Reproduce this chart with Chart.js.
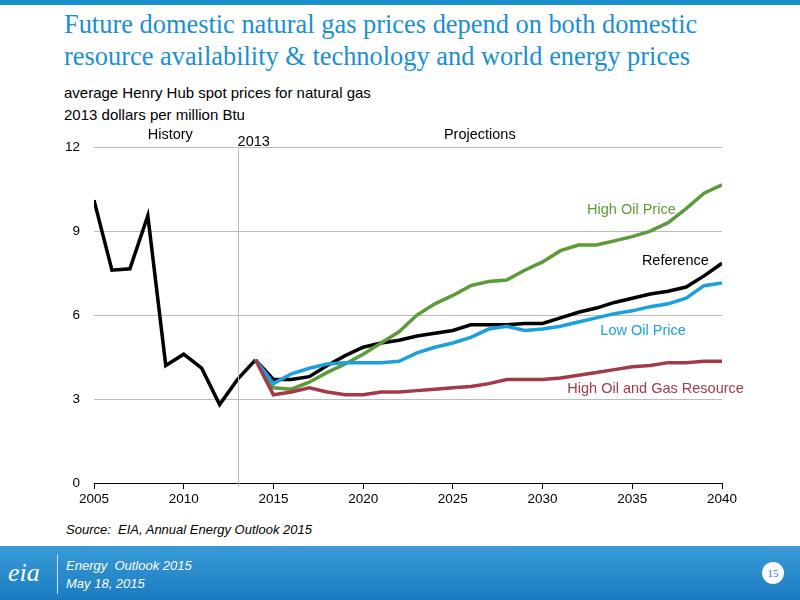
<!DOCTYPE html>
<html><head><meta charset="utf-8">
<script src="https://cdn.jsdelivr.net/npm/chart.js@4"></script>
<style>
body{margin:0;width:800px;height:600px;position:relative;background:#fff;font-family:"Liberation Sans",Arial,sans-serif;overflow:hidden}
#topbar{position:absolute;left:0;top:0;width:800px;height:5px;background:#1a8fd0}
#title{position:absolute;left:64px;top:8px;font-family:"Liberation Serif","Times New Roman",serif;font-size:26.4px;line-height:32px;color:#1a8fd0}
.sub{position:absolute;left:64px;font-size:15px;color:#000}
#src{position:absolute;left:66px;top:522px;font-size:13px;font-style:italic;color:#000}
#foot{position:absolute;left:0;top:546px;width:800px;height:54px;background:linear-gradient(#3a9ad8,#1a7cc0)}
#foot .t{position:absolute;left:66px;color:#fff;font-style:italic;font-size:13px}
#logo{position:absolute;left:8px;top:12px;color:#fff;font-size:26px;font-family:"Liberation Serif",serif;font-style:italic}
#sep{position:absolute;left:57px;top:8px;width:1px;height:40px;background:#cfe6f5}
#pg{position:absolute;left:762px;top:16px;width:22px;height:22px;border-radius:11px;background:#fff;color:#1a7cc0;font-size:11px;text-align:center;line-height:22px;font-family:"Liberation Serif",serif}
#c{position:absolute;left:50px;top:125px}
</style></head><body>
<div id="topbar"></div>
<div id="title">Future domestic natural gas prices depend on both domestic<br>resource availability &amp; technology and world energy prices</div>
<div class="sub" style="top:84px">average Henry Hub spot prices for natural gas</div>
<div class="sub" style="top:106px">2013 dollars per million Btu</div>
<div id="src">Source:&nbsp; EIA, Annual Energy Outlook 2015</div>
<div id="foot"><div id="logo">eia</div><div id="sep"></div>
<div class="t" style="top:12px">Energy&nbsp; Outlook 2015</div><div class="t" style="top:30px">May 18, 2015</div><div id="pg">15</div></div>
<canvas id="c" width="710" height="390"></canvas>
<script>
const histYears=[2005,2006,2007,2008,2009,2010,2011,2012,2013,2014];
const history=[10.1,7.6,7.65,9.55,4.2,4.6,4.1,2.8,3.7,4.4];
const projYears=[2014,2015,2016,2017,2018,2019,2020,2021,2022,2023,2024,2025,2026,2027,2028,2029,2030,2031,2032,2033,2034,2035,2036,2037,2038,2039,2040];
const reference=[4.4,3.7,3.7,3.8,4.2,4.55,4.85,5.0,5.1,5.25,5.35,5.45,5.65,5.65,5.65,5.7,5.7,5.9,6.1,6.25,6.45,6.6,6.75,6.85,7.0,7.4,7.85];
const highOil=[4.4,3.4,3.35,3.6,3.95,4.25,4.6,5.0,5.4,6.0,6.4,6.7,7.05,7.2,7.25,7.6,7.9,8.3,8.5,8.5,8.65,8.8,9.0,9.3,9.8,10.35,10.65];
const lowOil=[4.4,3.55,3.9,4.1,4.25,4.3,4.3,4.3,4.35,4.65,4.85,5.0,5.2,5.5,5.6,5.45,5.5,5.6,5.75,5.9,6.05,6.15,6.3,6.4,6.6,7.05,7.15];
const highRes=[4.4,3.15,3.25,3.4,3.25,3.15,3.15,3.25,3.25,3.3,3.35,3.4,3.45,3.55,3.7,3.7,3.7,3.75,3.85,3.95,4.05,4.15,4.2,4.3,4.3,4.35,4.35];
const xTicks=[2005,2010,2015,2020,2025,2030,2035,2040];
const yTicks=[0,3,6,9,12];
const pts=(xs,ys)=>xs.map((x,i)=>({x,y:ys[i]}));
const labels=[
 {t:'High Oil Price',x:2034.95,y:9.74,c:'#5c9a3a'},
 {t:'Reference',x:2037.4,y:7.94,c:'#000'},
 {t:'Low Oil Price',x:2035.6,y:5.44,c:'#1aa0dc'},
 {t:'High Oil and Gas Resource',x:2036.3,y:3.35,c:'#a33a4a'}];
const annot={id:'annot',afterDatasetsDraw(ch){
 const {ctx,scales:{x,y}}=ch;ctx.save();
 const xm=Math.round(x.getPixelForValue(2013))+0.5;
 ctx.strokeStyle='#bbb';ctx.lineWidth=1;ctx.beginPath();
 ctx.moveTo(xm,y.getPixelForValue(12.0));ctx.lineTo(xm,y.getPixelForValue(-0.15));ctx.stroke();
 ctx.font='14.5px "Liberation Sans"';ctx.textAlign='center';ctx.textBaseline='middle';ctx.fillStyle='#000';
 ctx.fillText('History',x.getPixelForValue(2009.25),y.getPixelForValue(12.45));
 ctx.fillText('2013',x.getPixelForValue(2013.9),y.getPixelForValue(12.18));
 ctx.fillText('Projections',x.getPixelForValue(2026.5),y.getPixelForValue(12.45));
 labels.forEach(l=>{ctx.fillStyle=l.c;ctx.fillText(l.t,x.getPixelForValue(l.x),y.getPixelForValue(l.y));});
 ctx.restore();}};
const ds=(d,c)=>({data:d,borderColor:c,borderWidth:3.5,pointRadius:0,tension:0,fill:false});
new Chart(document.getElementById('c'),{type:'line',
 data:{datasets:[ds(pts(projYears,highRes),'#a33a4a'),ds(pts(projYears,lowOil),'#1aa0dc'),ds(pts(projYears,highOil),'#5c9a3a'),ds(pts(projYears,reference),'#000'),ds(pts(histYears,history),'#000')]},
 options:{responsive:false,animation:false,layout:{padding:{top:9,right:38,left:0,bottom:0}},
  plugins:{legend:{display:false},tooltip:{enabled:false}},
  scales:{
   x:{type:'linear',min:2005,max:2040,afterBuildTicks:a=>{a.ticks=xTicks.map(v=>({value:v}));},afterFit:s=>{s.height=32;},
      grid:{display:true,drawOnChartArea:false,drawTicks:true,tickLength:6,color:'#000'},border:{color:'#000'},
      ticks:{color:'#000',font:{size:13.5,family:'Liberation Sans'},callback:v=>String(v),maxRotation:0,padding:2}},
   y:{min:0,max:12,afterBuildTicks:a=>{a.ticks=yTicks.map(v=>({value:v}));},afterFit:s=>{s.width=44;},
      grid:{color:'#bbb',drawTicks:false},border:{display:false},
      ticks:{color:'#000',font:{size:13.5,family:'Liberation Sans'},padding:14}}}},
 plugins:[annot]});
</script></body></html>
